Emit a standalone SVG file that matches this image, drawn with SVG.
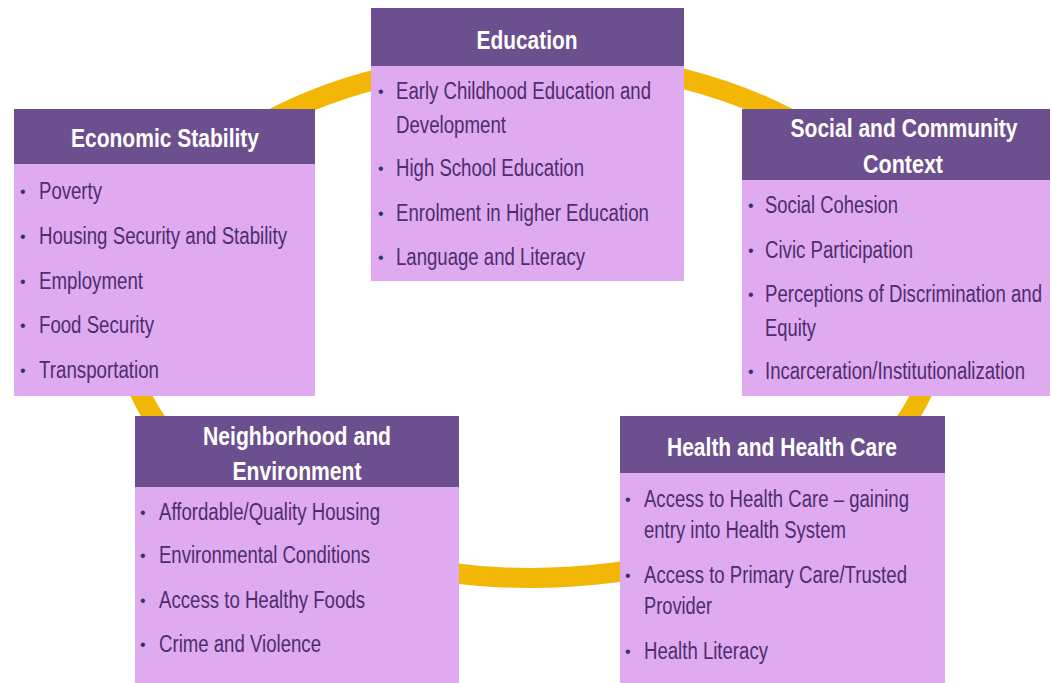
<svg xmlns="http://www.w3.org/2000/svg" width="1051" height="683" viewBox="0 0 1051 683">
  <style>
    .hdr { fill: #6C4F8E; }
    .body { fill: #DFAAF0; }
    .title { font-family: "Liberation Sans Narrow", "Liberation Sans", Arial, sans-serif; font-weight: bold; font-size: 26px; fill: #FFFFFF; text-anchor: middle; }
    .item { font-family: "Liberation Sans Narrow", "Liberation Sans", Arial, sans-serif; font-size: 23px; fill: #4E2C6E; }
    .dot { font-family: "Liberation Sans", Arial, sans-serif; font-size: 16px; fill: #2F3570; }
    .ring { fill: none; stroke: #F2B705; stroke-width: 20; }
  </style>

  <rect width="1051" height="683" fill="#FFFFFF"/>

  <!-- cycle ring linking the five domains -->
  <g id="connectors">
    <ellipse class="ring" cx="531" cy="319" rx="408" ry="259"/>
  </g>

  <!-- Education -->
  <g id="education">
    <rect class="body" x="371" y="8" width="313" height="273"/>
    <rect class="hdr" x="371" y="8" width="313" height="58"/>
    <text class="title" x="527" y="49" textLength="101" lengthAdjust="spacingAndGlyphs">Education</text>
    <text class="dot" x="378" y="97">•</text>
    <text class="item" x="396" y="99" textLength="255" lengthAdjust="spacingAndGlyphs">Early Childhood Education and</text>
    <text class="item" x="396" y="133" textLength="110" lengthAdjust="spacingAndGlyphs">Development</text>
    <text class="dot" x="378" y="174">•</text>
    <text class="item" x="396" y="176" textLength="188" lengthAdjust="spacingAndGlyphs">High School Education</text>
    <text class="dot" x="378" y="219">•</text>
    <text class="item" x="396" y="221" textLength="253" lengthAdjust="spacingAndGlyphs">Enrolment in Higher Education</text>
    <text class="dot" x="378" y="263">•</text>
    <text class="item" x="396" y="265" textLength="189" lengthAdjust="spacingAndGlyphs">Language and Literacy</text>
  </g>

  <!-- Economic Stability -->
  <g id="economic-stability">
    <rect class="body" x="14" y="109" width="301" height="287"/>
    <rect class="hdr" x="14" y="109" width="301" height="55"/>
    <text class="title" x="165" y="147" textLength="188" lengthAdjust="spacingAndGlyphs">Economic Stability</text>
    <text class="dot" x="20" y="197">•</text>
    <text class="item" x="39" y="199" textLength="63" lengthAdjust="spacingAndGlyphs">Poverty</text>
    <text class="dot" x="20" y="242">•</text>
    <text class="item" x="39" y="244" textLength="248" lengthAdjust="spacingAndGlyphs">Housing Security and Stability</text>
    <text class="dot" x="20" y="287">•</text>
    <text class="item" x="39" y="289" textLength="104" lengthAdjust="spacingAndGlyphs">Employment</text>
    <text class="dot" x="20" y="331">•</text>
    <text class="item" x="39" y="333" textLength="115" lengthAdjust="spacingAndGlyphs">Food Security</text>
    <text class="dot" x="20" y="376">•</text>
    <text class="item" x="39" y="378" textLength="120" lengthAdjust="spacingAndGlyphs">Transportation</text>
  </g>

  <!-- Social and Community Context -->
  <g id="social-community">
    <rect class="body" x="742" y="109" width="308" height="287"/>
    <rect class="hdr" x="742" y="109" width="308" height="71"/>
    <text class="title" x="904" y="137" textLength="227" lengthAdjust="spacingAndGlyphs">Social and Community</text>
    <text class="title" x="903" y="173" textLength="80" lengthAdjust="spacingAndGlyphs">Context</text>
    <text class="dot" x="748" y="211">•</text>
    <text class="item" x="765" y="213" textLength="133" lengthAdjust="spacingAndGlyphs">Social Cohesion</text>
    <text class="dot" x="748" y="256">•</text>
    <text class="item" x="765" y="258" textLength="148" lengthAdjust="spacingAndGlyphs">Civic Participation</text>
    <text class="dot" x="748" y="300">•</text>
    <text class="item" x="765" y="302" textLength="277" lengthAdjust="spacingAndGlyphs">Perceptions of Discrimination and</text>
    <text class="item" x="765" y="336" textLength="51" lengthAdjust="spacingAndGlyphs">Equity</text>
    <text class="dot" x="748" y="377">•</text>
    <text class="item" x="765" y="379" textLength="260" lengthAdjust="spacingAndGlyphs">Incarceration/Institutionalization</text>
  </g>

  <!-- Neighborhood and Environment -->
  <g id="neighborhood-environment">
    <rect class="body" x="135" y="416" width="324" height="267"/>
    <rect class="hdr" x="135" y="416" width="324" height="71"/>
    <text class="title" x="297" y="445" textLength="188" lengthAdjust="spacingAndGlyphs">Neighborhood and</text>
    <text class="title" x="297" y="480" textLength="129" lengthAdjust="spacingAndGlyphs">Environment</text>
    <text class="dot" x="140" y="518">•</text>
    <text class="item" x="159" y="520" textLength="221" lengthAdjust="spacingAndGlyphs">Affordable/Quality Housing</text>
    <text class="dot" x="140" y="561">•</text>
    <text class="item" x="159" y="563" textLength="211" lengthAdjust="spacingAndGlyphs">Environmental Conditions</text>
    <text class="dot" x="140" y="606">•</text>
    <text class="item" x="159" y="608" textLength="206" lengthAdjust="spacingAndGlyphs">Access to Healthy Foods</text>
    <text class="dot" x="140" y="650">•</text>
    <text class="item" x="159" y="652" textLength="162" lengthAdjust="spacingAndGlyphs">Crime and Violence</text>
  </g>

  <!-- Health and Health Care -->
  <g id="health-care">
    <rect class="body" x="620" y="416" width="325" height="267"/>
    <rect class="hdr" x="620" y="416" width="325" height="57"/>
    <text class="title" x="782" y="456" textLength="230" lengthAdjust="spacingAndGlyphs">Health and Health Care</text>
    <text class="dot" x="625" y="505">•</text>
    <text class="item" x="644" y="507" textLength="265" lengthAdjust="spacingAndGlyphs">Access to Health Care – gaining</text>
    <text class="item" x="644" y="538" textLength="202" lengthAdjust="spacingAndGlyphs">entry into Health System</text>
    <text class="dot" x="625" y="581">•</text>
    <text class="item" x="644" y="583" textLength="263" lengthAdjust="spacingAndGlyphs">Access to Primary Care/Trusted</text>
    <text class="item" x="644" y="614" textLength="68" lengthAdjust="spacingAndGlyphs">Provider</text>
    <text class="dot" x="625" y="657">•</text>
    <text class="item" x="644" y="659" textLength="124" lengthAdjust="spacingAndGlyphs">Health Literacy</text>
  </g>
</svg>
